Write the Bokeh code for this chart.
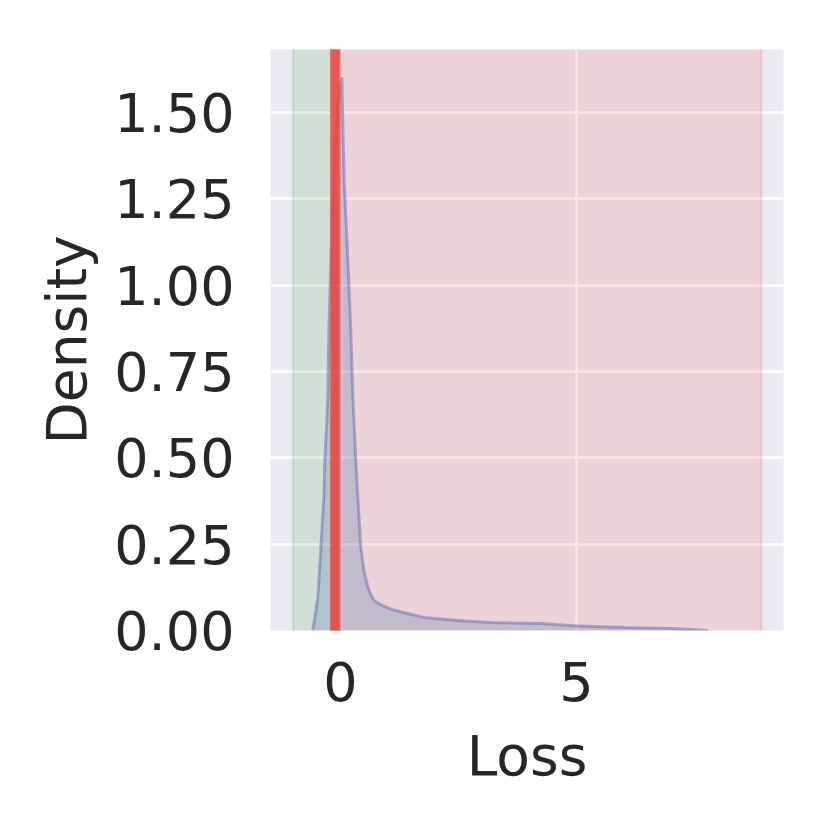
from bokeh.plotting import figure
from bokeh.models import FixedTicker, NumeralTickFormatter, Range1d
from bokeh.embed import file_html
from bokeh.resources import INLINE

# KDE curve of the loss
loss_x = [-0.583, -0.477, -0.413, -0.350, -0.328, -0.265, -0.244, -0.16, -0.06, 0.03,
          0.08, 0.16, 0.222, 0.265, 0.328, 0.371, 0.434, 0.498, 0.583, 0.646,
          0.710, 0.858, 1.07, 1.43, 1.77, 2.49, 3.19, 4.25, 4.95, 6.01, 7.07, 7.79]
density = [0.0, 0.096, 0.240, 0.385, 0.492, 0.675, 0.869, 1.245, 1.506, 1.603,
           1.303, 1.072, 0.869, 0.675, 0.492, 0.385, 0.240, 0.174, 0.125, 0.104,
           0.088, 0.074, 0.062, 0.049, 0.038, 0.029, 0.023, 0.020, 0.014, 0.009, 0.006, 0.0]

# shaded regions and threshold band
green_span = [-1.0, -0.2]
red_span = [-0.2, 8.92]
threshold_band = [-0.22, 0.01]
threshold_core = [-0.19, -0.02]

x_ticks = [0, 5]
y_ticks = [0.0, 0.25, 0.5, 0.75, 1.0, 1.25, 1.5]

FONT = "DejaVu Sans"
TXT = "#262626"

p = figure(width=816, height=816, output_backend="svg", toolbar_location=None,
           x_range=Range1d(-1.48, 9.39), y_range=Range1d(0, 1.683),
           min_border_left=270, min_border_top=49, min_border_right=33,
           min_border_bottom=186)
p.outline_line_color = None
p.background_fill_color = "#EAEAF2"
p.border_fill_color = "white"

p.xaxis.ticker = FixedTicker(ticks=x_ticks)
p.yaxis.ticker = FixedTicker(ticks=y_ticks)
p.yaxis.formatter = NumeralTickFormatter(format="0.00")
for ax in (p.xaxis, p.yaxis):
    ax.axis_line_color = None
    ax.major_tick_line_color = None
    ax.minor_tick_line_color = None
    ax.major_label_text_font = FONT
    ax.major_label_text_font_size = "54px"
    ax.major_label_text_color = TXT
    ax.axis_label_text_font = FONT
    ax.axis_label_text_font_size = "55px"
    ax.axis_label_text_font_style = "normal"
    ax.axis_label_text_color = TXT
p.xaxis.axis_label = "Loss"
p.yaxis.axis_label = "Density"
p.xaxis.major_label_standoff = 25
p.yaxis.major_label_standoff = 30
p.xaxis.axis_label_standoff = 20
p.yaxis.axis_label_standoff = 12

p.grid.grid_line_color = "white"
p.grid.grid_line_width = 2.5
p.xgrid.ticker = FixedTicker(ticks=x_ticks)
p.ygrid.ticker = FixedTicker(ticks=y_ticks)

p.quad(left=[green_span[0]], right=[green_span[1]], bottom=[-10], top=[10],
       fill_color="green", fill_alpha=0.1, line_color="green", line_alpha=0.12, line_width=2)
p.quad(left=[red_span[0]], right=[red_span[1]], bottom=[-10], top=[10],
       fill_color="red", fill_alpha=0.1, line_color="red", line_alpha=0.12, line_width=2)

p.varea(x=loss_x, y1=[0] * len(loss_x), y2=density, fill_color="#4C72B0", fill_alpha=0.25)
p.line(loss_x, density, line_color="#5A62A8", line_alpha=0.45, line_width=3)

p.quad(left=[threshold_band[0]], right=[threshold_band[1]], bottom=[-10], top=[10],
       fill_color="#EE5A55", fill_alpha=0.7, line_color=None)
p.quad(left=[threshold_core[0]], right=[threshold_core[1]], bottom=[-10], top=[10],
       fill_color="#DE3F3A", fill_alpha=0.6, line_color=None)

open("out.html", "w").write(file_html(p, INLINE))
